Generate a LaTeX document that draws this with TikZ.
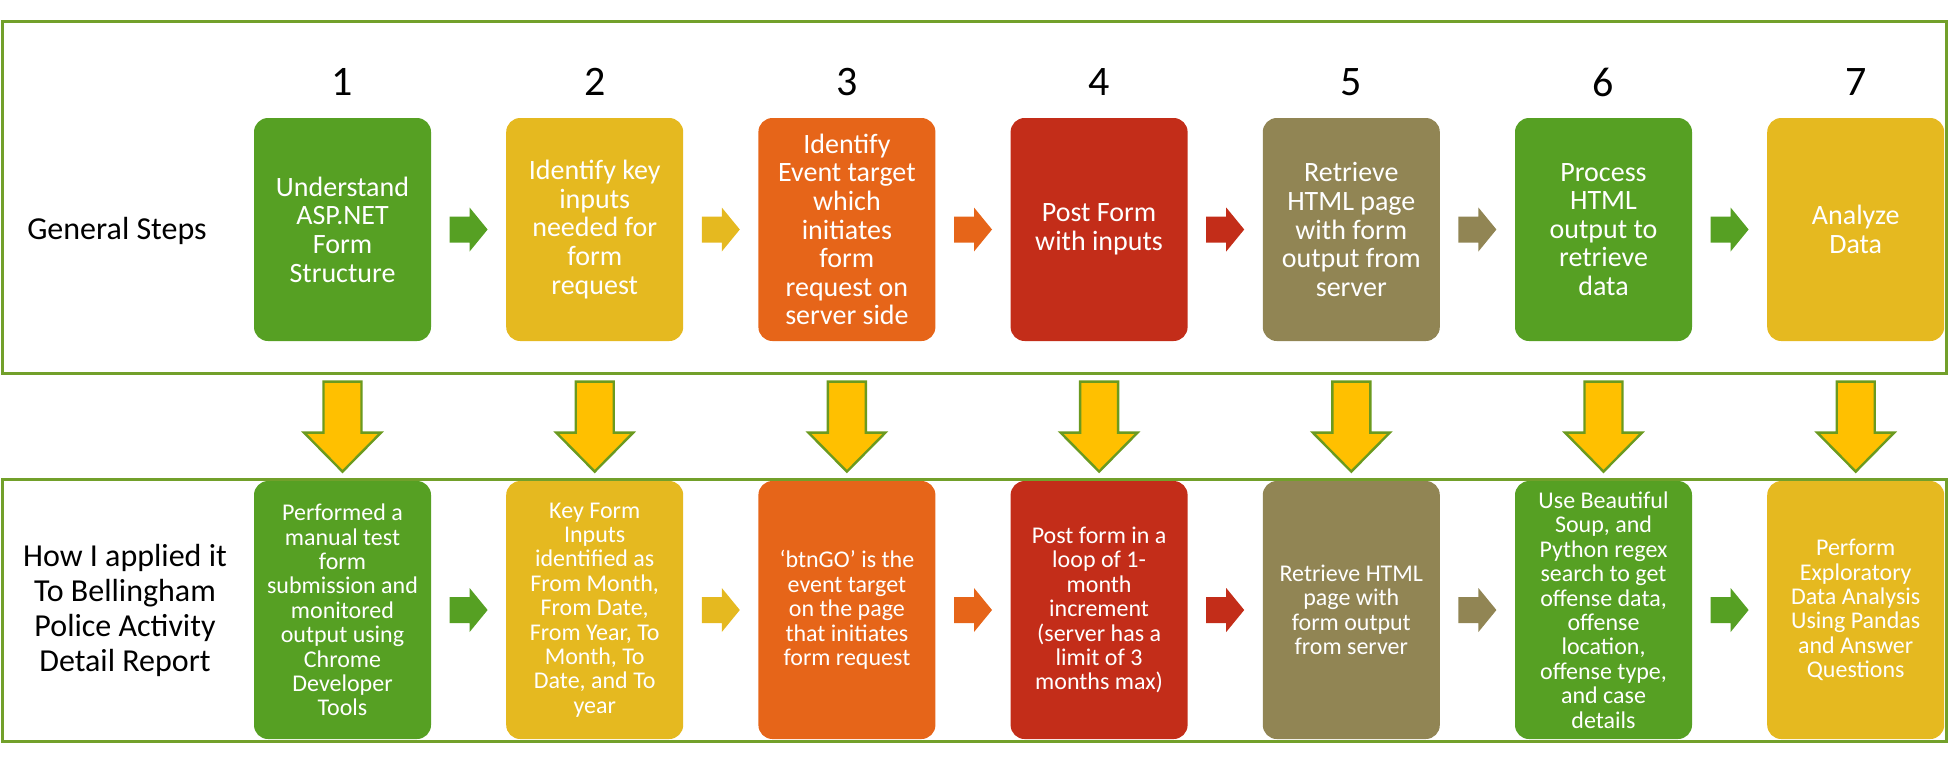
\documentclass[tikz,border=0pt]{standalone}
\usepackage{fontspec}
\setmainfont{Carlito}
\usetikzlibrary{calc}
\definecolor{cgreen}{HTML}{56A023}
\definecolor{cyellow}{HTML}{E5B920}
\definecolor{corange}{HTML}{E66519}
\definecolor{cred}{HTML}{C32D19}
\definecolor{colive}{HTML}{918554}
\definecolor{frameg}{HTML}{72A02A}
\definecolor{arrowfill}{HTML}{FFC000}
\definecolor{arrowline}{HTML}{6B9A1F}
\begin{document}
\begin{tikzpicture}[x=0.5pt,y=-0.5pt,
  topbox/.style={rounded corners=7pt, fill=#1, text=white, minimum width=88.5pt, minimum height=111.5pt, inner sep=0pt, align=center, font=\fontsize{14}{14.3}\selectfont},
  botbox/.style={rounded corners=7pt, fill=#1, text=white, minimum width=88.5pt, minimum height=129pt, inner sep=0pt, align=center, font=\fontsize{12}{12.2}\selectfont},
  num/.style={font=\fontsize{21}{24}\selectfont, inner sep=0pt},
  lefttext/.style={align=center, inner sep=0pt, font=\fontsize{16}{17.5}\selectfont},
  frame/.style={draw=frameg, line width=1.5pt},
  sidearrow/.pic={\fill[#1] (-19,-13) -- (1,-13) -- (1,-22) -- (19,0) -- (1,22) -- (1,13) -- (-19,13) -- cycle;},
  downarrow/.pic={\draw[fill=arrowfill, draw=arrowline, line width=1.2pt, line join=miter] (-19,-99) -- (19,-99) -- (19,-48) -- (38.5,-48) -- (0,-9) -- (-38.5,-48) -- (-19,-48) -- cycle;}
]
\useasboundingbox (0,0) rectangle (1948,762);
% frames
\draw[frame] (2,21) rectangle (1946,373);
\draw[frame] (2,479) rectangle (1946,741);

% left labels
\node[lefttext] (gs) at (117,231) {General Steps};
\node[lefttext] (how) at (125,610) {How I applied it\\To Bellingham\\Police Activity\\Detail Report};

% numbers
\node[num] (n1) at (342.5,82) {1};
\node[num] (n2) at (594.7,82) {2};
\node[num] (n3) at (846.9,82) {3};
\node[num] (n4) at (1099.1,82) {4};
\node[num] (n5) at (1351.3,82) {5};
\node[num] (n6) at (1603.5,82) {6};
\node[num] (n7) at (1855.7,82) {7};

% top boxes
\node[topbox=cgreen]  (t1) at (342.5,229.5) {Understand\\ASP.NET\\Form\\Structure};
\node[topbox=cyellow] (t2) at (594.7,229.5) {Identify key\\inputs\\needed for\\form\\request};
\node[topbox=corange] (t3) at (846.9,229.5) {Identify\\Event target\\which\\initiates\\form\\request on\\server side};
\node[topbox=cred]    (t4) at (1099.1,229.5) {Post Form\\with inputs};
\node[topbox=colive]  (t5) at (1351.3,229.5) {Retrieve\\HTML page\\with form\\output from\\server};
\node[topbox=cgreen]  (t6) at (1603.5,229.5) {Process\\HTML\\output to\\retrieve\\data};
\node[topbox=cyellow] (t7) at (1855.7,229.5) {Analyze\\Data};

% bottom boxes
\node[botbox=cgreen]  (b1) at (342.5,610) {Performed a\\manual test\\form\\submission and\\monitored\\output using\\Chrome\\Developer\\Tools};
\node[botbox=cyellow] (b2) at (594.7,610) {Key Form\\Inputs\\identified as\\From Month,\\From Date,\\From Year, To\\Month, To\\Date, and To\\year};
\node[botbox=corange] (b3) at (846.9,610) {‘btnGO’ is the\\event target\\on the page\\that initiates\\form request};
\node[botbox=cred]    (b4) at (1099.1,610) {Post form in a\\loop of 1-\\month\\increment\\(server has a\\limit of 3\\months max)};
\node[botbox=colive]  (b5) at (1351.3,610) {Retrieve HTML\\page with\\form output\\from server};
\node[botbox=cgreen]  (b6) at (1603.5,610) {Use Beautiful\\Soup, and\\Python regex\\search to get\\offense data,\\offense\\location,\\offense type,\\and case\\details};
\node[botbox=cyellow] (b7) at (1855.7,610) {Perform\\Exploratory\\Data Analysis\\Using Pandas\\and Answer\\Questions};

% side arrows
\pic at ($(t1.east)!0.5!(t2.west)$) {sidearrow=cgreen};
\pic at ($(t2.east)!0.5!(t3.west)$) {sidearrow=cyellow};
\pic at ($(t3.east)!0.5!(t4.west)$) {sidearrow=corange};
\pic at ($(t4.east)!0.5!(t5.west)$) {sidearrow=cred};
\pic at ($(t5.east)!0.5!(t6.west)$) {sidearrow=colive};
\pic at ($(t6.east)!0.5!(t7.west)$) {sidearrow=cgreen};
\pic at ($(b1.east)!0.5!(b2.west)$) {sidearrow=cgreen};
\pic at ($(b2.east)!0.5!(b3.west)$) {sidearrow=cyellow};
\pic at ($(b3.east)!0.5!(b4.west)$) {sidearrow=corange};
\pic at ($(b4.east)!0.5!(b5.west)$) {sidearrow=cred};
\pic at ($(b5.east)!0.5!(b6.west)$) {sidearrow=colive};
\pic at ($(b6.east)!0.5!(b7.west)$) {sidearrow=cgreen};

% down arrows
\pic at (b1.north) {downarrow};
\pic at (b2.north) {downarrow};
\pic at (b3.north) {downarrow};
\pic at (b4.north) {downarrow};
\pic at (b5.north) {downarrow};
\pic at (b6.north) {downarrow};
\pic at (b7.north) {downarrow};
\end{tikzpicture}
\end{document}
